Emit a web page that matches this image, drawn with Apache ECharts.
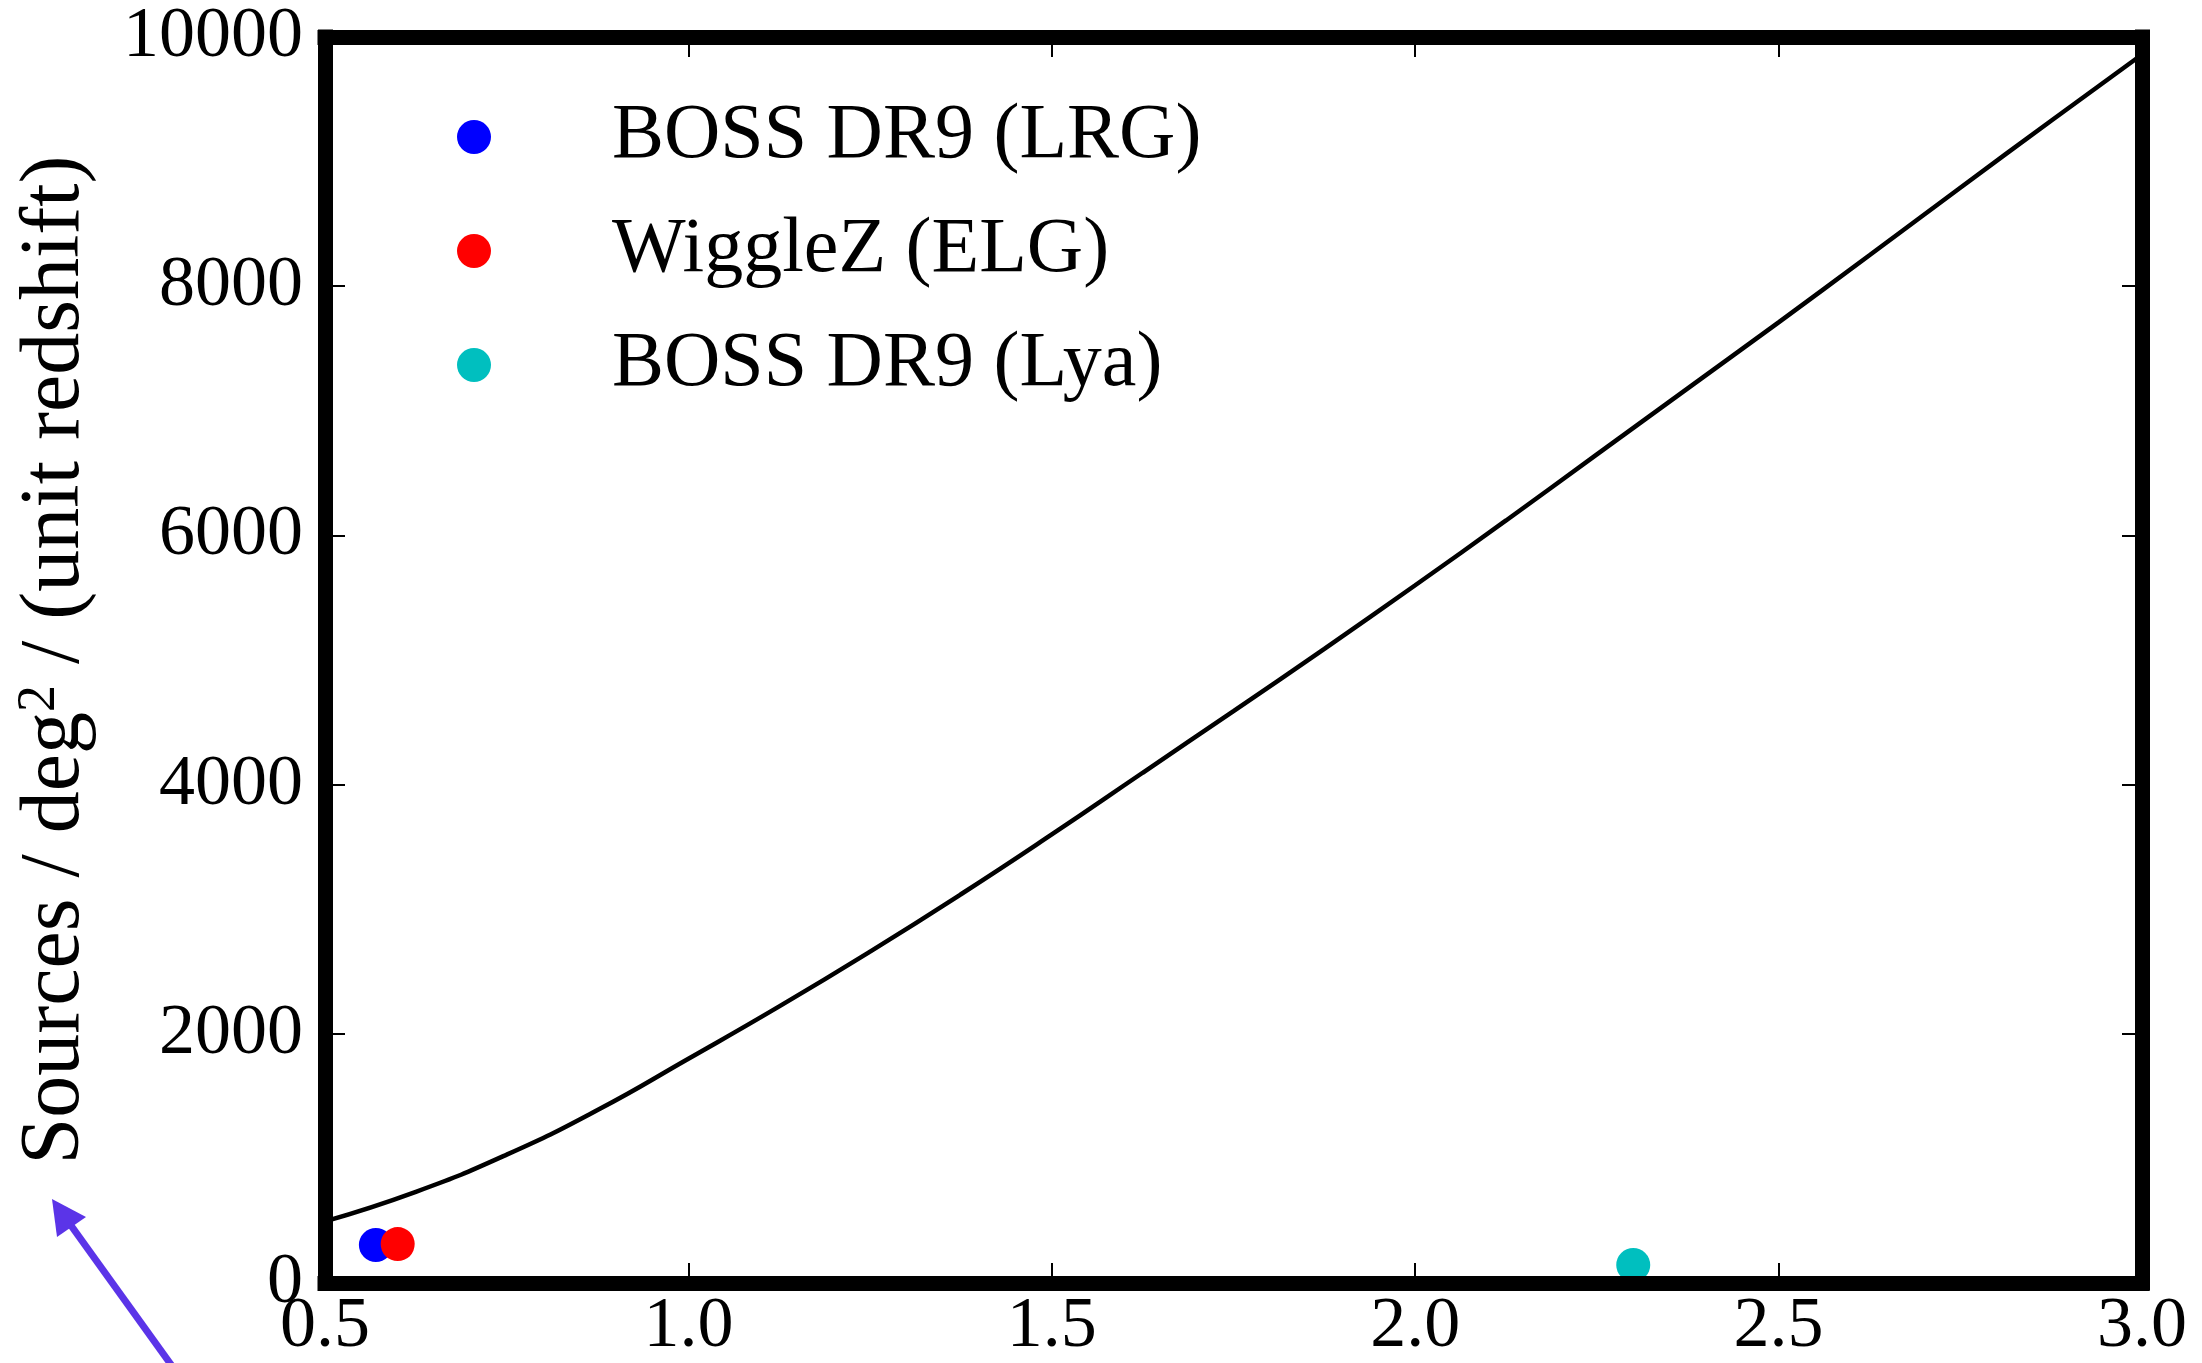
<!DOCTYPE html>
<html>
<head>
<meta charset="utf-8">
<script src="https://cdn.jsdelivr.net/npm/echarts@6/dist/echarts.min.js"></script>
<style>
    html, body { margin: 0; padding: 0; background: #fff; }
    #chart { width: 2202px; height: 1363px; }
</style>
</head>
<body>
<div id="chart"></div>
<script>
// model curve: sources per deg^2 per unit redshift
const curveZ = [0.5, 0.625, 0.75, 0.875, 1.0, 1.125, 1.25, 1.375, 1.5, 1.625, 1.75, 1.875,
    2.0, 2.125, 2.25, 2.375, 2.5, 2.625, 2.75, 2.875, 3.0];
const curveN = [495, 732, 1030, 1388, 1800, 2220, 2660, 3120, 3600, 4095, 4590, 5090,
    5600, 6120, 6650, 7180, 7710, 8248, 8790, 9328, 9860];

// survey points
const surveyNames = ['BOSS DR9 (LRG)', 'WiggleZ (ELG)', 'BOSS DR9 (Lya)'];
const surveyZ = [0.57, 0.60, 2.30];
const surveyN = [305, 312, 145];
const surveyColors = ['#0000ff', '#ff0000', '#00bfbf'];

const xTicks = { min: 0.5, max: 3.0, step: 0.5 };
const yTicks = { min: 0, max: 10000, step: 2000 };

const font = 'Liberation Serif, serif';
const frameWidth = 15;

const chart = echarts.init(document.getElementById('chart'));

const frameAxis = (extra) => Object.assign({
    type: 'value',
    z: 10,
    splitLine: { show: false },
    axisLine: { show: true, onZero: false, lineStyle: { color: '#000', width: frameWidth, cap: 'square' } },
    axisTick: { show: true, inside: true, length: 20, lineStyle: { color: '#000', width: 2 } }
}, extra);

const seriesList = [{
    name: 'model',
    type: 'line',
    data: curveZ.map((z, i) => [z, curveN[i]]),
    smooth: 0.5,
    showSymbol: false,
    lineStyle: { color: '#000', width: 4.5 },
    z: 2
}].concat(surveyNames.map((name, i) => ({
    name: name,
    type: 'scatter',
    data: [[surveyZ[i], surveyN[i]]],
    symbol: 'circle',
    symbolSize: 34,
    itemStyle: { color: surveyColors[i], opacity: 1 },
    clip: false,
    z: 3
})));

chart.setOption({
    backgroundColor: '#fff',
    animation: false,
    textStyle: { fontFamily: font },
    grid: { left: 325, right: 60, top: 37, bottom: 78 },
    legend: {
        data: surveyNames,
        orient: 'vertical',
        left: 452,
        top: 93,
        icon: 'circle',
        itemWidth: 34,
        itemHeight: 34,
        itemGap: 36,
        textStyle: {
            fontFamily: font,
            fontSize: 78,
            color: '#000',
            lineHeight: 70,
            padding: [0, 0, 0, 116]
        }
    },
    xAxis: [
        frameAxis({
            position: 'bottom',
            min: xTicks.min, max: xTicks.max, interval: xTicks.step,
            axisLabel: {
                show: true, margin: 8, color: '#000', fontFamily: font, fontSize: 72,
                showMinLabel: true, showMaxLabel: true,
                formatter: v => v.toFixed(1)
            }
        }),
        frameAxis({
            position: 'top',
            min: xTicks.min, max: xTicks.max, interval: xTicks.step,
            axisLabel: { show: false }
        })
    ],
    yAxis: [
        frameAxis({
            position: 'left',
            min: yTicks.min, max: yTicks.max, interval: yTicks.step,
            axisLabel: {
                show: true, margin: 22, color: '#000', fontFamily: font, fontSize: 72,
                showMinLabel: true, showMaxLabel: true,
                formatter: v => String(v)
            },
            name: '{a|Sources / deg}{s|2}{a| / (unit redshift)}',
            nameLocation: 'middle',
            nameGap: 226,
            nameTextStyle: {
                color: '#000',
                fontFamily: font,
                rich: {
                    a: { fontFamily: font, fontSize: 84, color: '#000', lineHeight: 86 },
                    s: { fontFamily: font, fontSize: 54, color: '#000', verticalAlign: 'top', lineHeight: 56 }
                }
            }
        }),
        frameAxis({
            position: 'right',
            min: yTicks.min, max: yTicks.max, interval: yTicks.step,
            axisLabel: { show: false }
        })
    ],
    graphic: [{
        // annotation arrow in the lower left corner
        type: 'group',
        children: [{
            type: 'line',
            shape: { x1: 172, y1: 1366, x2: 62, y2: 1213 },
            style: { stroke: '#5b34e8', lineWidth: 7 }
        }, {
            type: 'polygon',
            shape: { points: [[52, 1199], [86, 1217], [57, 1237]] },
            style: { fill: '#5b34e8' }
        }]
    }],
    series: seriesList
});
</script>
</body>
</html>
